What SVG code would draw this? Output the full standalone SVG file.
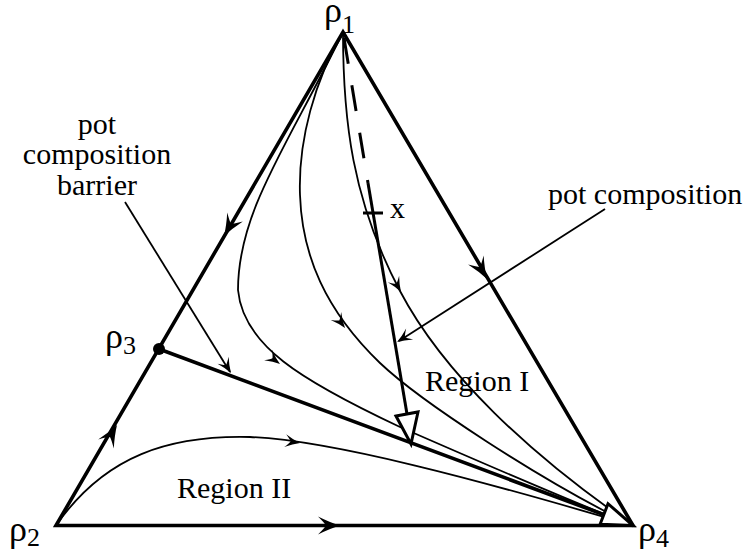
<svg xmlns="http://www.w3.org/2000/svg" xmlns:xlink="http://www.w3.org/1999/xlink" width="752" height="552" viewBox="0 0 752 552">
<style>
.txt{font-family:"Liberation Serif","Times New Roman",serif;font-size:30px;fill:#000}
.rho{font-family:"Liberation Serif","Times New Roman",serif;font-size:36px;fill:#000}
.sub{font-size:26px}
.thick{fill:none;stroke:#000;stroke-width:3.6;stroke-linejoin:miter}
.thin{fill:none;stroke:#000;stroke-width:1.8}
.pot{fill:none;stroke:#000;stroke-width:3}
.tri{fill:#fff;stroke:#000;stroke-width:3;stroke-linejoin:miter}
</style>
<defs>
<path id="ahL" d="M0,0 Q-10,-3 -22,-9 Q-15,-2 -14,0 Q-15,2 -22,9 Q-10,3 0,0 Z" fill="#000"/>
<path id="ahS" d="M0,0 Q-7,-2 -15,-6.5 Q-10,-1.5 -9.5,0 Q-10,1.5 -15,6.5 Q-7,2 0,0 Z" fill="#000"/>
</defs>
<rect width="752" height="552" fill="#fff"/>
<g id="connectors">
  <path id="edges" class="thick" d="M56,525.5 L343,32 L633,525.5 Z"/>
  <line id="barrier" class="thick" x1="159" y1="349" x2="633" y2="525.5"/>
  <path id="c1" class="thin" d="M343,32 C290,142 238,210 238,290 C243,345 300,380 400,427 C480,462 580,505 633,525.5"/>
  <path id="c2" class="thin" d="M343,32 C315,80 298,140 300,195 C302,255 325,310 380,363 C420,401 540,480 633,525.5"/>
  <path id="c3" class="thin" d="M343,32 C343,120 352,200 400,291 C443,373 530,455 633,525.5"/>
  <path id="c4" class="thin" d="M56,525.5 C105,455 170,435 250,437 C330,440 480,480 633,525.5"/>
  <line id="potdash" class="pot" x1="344" y1="38" x2="368" y2="183" stroke-dasharray="26 22"/>
  <line id="potline" class="pot" x1="368" y1="183" x2="407" y2="414"/>
  <line id="tick" class="pot" x1="363" y1="213" x2="383" y2="213"/>
  <line id="ptr1" class="thin" x1="125" y1="202" x2="230" y2="372"/>
  <line id="ptr2" class="thin" x1="605" y1="209" x2="399" y2="341"/>
  <use xlink:href="#ahL" href="#ahL" transform="translate(224,236) rotate(120.1)"/>
  <use xlink:href="#ahL" href="#ahL" transform="translate(487,279) rotate(59.6)"/>
  <use xlink:href="#ahL" href="#ahL" transform="translate(117,425) rotate(-59.9)"/>
  <use xlink:href="#ahL" href="#ahL" transform="translate(340,525.5) rotate(0)"/>
  <use xlink:href="#ahS" href="#ahS" transform="translate(280,364) rotate(37)"/>
  <use xlink:href="#ahS" href="#ahS" transform="translate(345,328) rotate(53)"/>
  <use xlink:href="#ahS" href="#ahS" transform="translate(401,292) rotate(60)"/>
  <use xlink:href="#ahS" href="#ahS" transform="translate(300,443) rotate(9)"/>
  <use xlink:href="#ahS" href="#ahS" transform="translate(231,373) rotate(58.2)"/>
  <use xlink:href="#ahS" href="#ahS" transform="translate(397,342) rotate(147.4)"/>
  <polygon class="tri" points="396,416 418,412 411,444"/>
  <polygon class="tri" points="608,503.7 600.1,524.3 633,525.5"/>
</g>
<g id="rho1"><text class="rho" x="324" y="22">ρ<tspan class="sub" y="33">1</tspan></text></g>
<g id="rho2"><text class="rho" x="9" y="541">ρ<tspan class="sub" y="546">2</tspan></text></g>
<g id="rho3"><circle cx="159" cy="349" r="6" fill="#000"/><text class="rho" x="105" y="348">ρ<tspan class="sub" y="354">3</tspan></text></g>
<g id="rho4"><text class="rho" x="638" y="541">ρ<tspan class="sub" y="547">4</tspan></text></g>
<g id="label-x"><text class="txt" x="390" y="218">x</text></g>
<g id="label-pot"><text class="txt" x="548" y="204">pot composition</text></g>
<g id="label-barrier"><text class="txt" text-anchor="middle" x="97" y="134">pot</text><text class="txt" text-anchor="middle" x="97" y="164">composition</text><text class="txt" text-anchor="middle" x="97" y="195">barrier</text></g>
<g id="region1"><text class="txt" x="425" y="391">Region I</text></g>
<g id="region2"><text class="txt" x="177" y="498">Region II</text></g>
</svg>
